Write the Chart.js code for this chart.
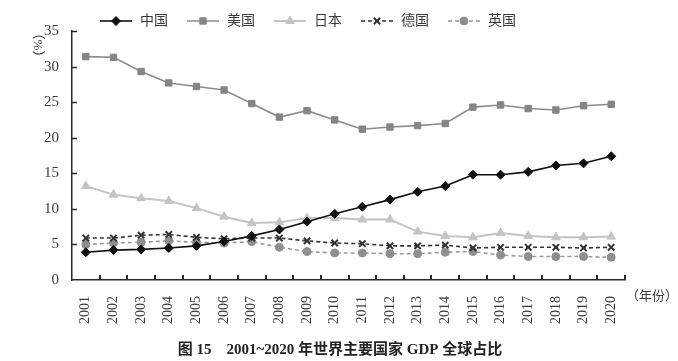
<!DOCTYPE html>
<html>
<head>
<meta charset="utf-8">
<script src="https://cdn.jsdelivr.net/npm/chart.js@4.4.1/dist/chart.umd.min.js"></script>
<style>
  html, body { margin: 0; padding: 0; background: #fff; }
  #wrap { width: 678px; height: 361px; position: relative; }
</style>
</head>
<body>
<div id="wrap"><canvas id="gdpChart"></canvas></div>
<script>
const years = ['2001', '2002', '2003', '2004', '2005', '2006', '2007', '2008', '2009', '2010',
  '2011', '2012', '2013', '2014', '2015', '2016', '2017', '2018', '2019', '2020'];
const china = [3.9, 4.2, 4.3, 4.5, 4.8, 5.4, 6.2, 7.1, 8.2, 9.3, 10.3, 11.3, 12.4, 13.2, 14.8, 14.8, 15.2, 16.1, 16.4, 17.4];
const usa = [31.4, 31.3, 29.3, 27.7, 27.2, 26.7, 24.8, 22.9, 23.8, 22.5, 21.2, 21.5, 21.7, 22.0, 24.3, 24.6, 24.1, 23.9, 24.5, 24.7];
const japan = [13.2, 12.0, 11.5, 11.1, 10.1, 8.9, 8.0, 8.1, 8.7, 8.7, 8.5, 8.5, 6.8, 6.2, 6.0, 6.6, 6.2, 6.0, 6.0, 6.1];
const germany = [5.9, 5.9, 6.3, 6.4, 6.0, 5.8, 5.9, 5.9, 5.5, 5.2, 5.1, 4.8, 4.8, 4.9, 4.5, 4.6, 4.6, 4.6, 4.5, 4.6];
const uk = [5.0, 5.2, 5.3, 5.5, 5.3, 5.2, 5.4, 4.6, 4.0, 3.8, 3.8, 3.7, 3.7, 3.9, 4.0, 3.5, 3.3, 3.3, 3.3, 3.2];
const yTicks = [0, 5, 10, 15, 20, 25, 30, 35];

const serif = '"Liberation Serif", "Noto Sans CJK SC", serif';
const axisColor = '#2a2a2a';
const textColor = '#3a3a3a';

// legend, unit labels, caption and inward tick marks
const decorations = {
  id: 'decorations',
  afterDraw(chart) {
    const { ctx, scales: { x, y } } = chart;
    ctx.save();

    // inward ticks on x axis (category boundaries)
    ctx.strokeStyle = axisColor;
    ctx.lineWidth = 2;
    const n = years.length;
    for (let i = 1; i <= n; i++) {
      const px = Math.round(x.left + i * x.width / n);
      ctx.beginPath();
      ctx.moveTo(px, y.bottom);
      ctx.lineTo(px, y.bottom - 5);
      ctx.stroke();
    }
    // inward ticks on y axis
    ctx.lineWidth = 1.5;
    y.ticks.forEach(t => {
      if (t.value === 0) return;
      const py = Math.round(y.getPixelForValue(t.value)) + 0.5;
      ctx.beginPath();
      ctx.moveTo(x.left, py);
      ctx.lineTo(x.left + 5, py);
      ctx.stroke();
    });

    // legend
    ctx.font = '14px ' + serif;
    ctx.textBaseline = 'middle';
    ctx.textAlign = 'left';
    let lx = 100;
    const ly = 21;
    chart.data.datasets.forEach(ds => {
      ctx.strokeStyle = ds.borderColor;
      ctx.lineWidth = ds.borderWidth;
      ctx.setLineDash(ds.borderDash || []);
      ctx.beginPath();
      ctx.moveTo(lx, ly);
      ctx.lineTo(lx + 32, ly);
      ctx.stroke();
      ctx.setLineDash([]);
      ctx.fillStyle = ds.pointBackgroundColor;
      ctx.strokeStyle = ds.pointBorderColor;
      ctx.lineWidth = ds.pointBorderWidth;
      Chart.helpers.drawPoint(ctx, {
        pointStyle: ds.pointStyle, radius: ds.pointRadius,
        borderWidth: ds.pointBorderWidth, rotation: 0
      }, lx + 16, ly);
      ctx.fillStyle = textColor;
      ctx.fillText(ds.label, lx + 40, ly);
      lx += 40 + ctx.measureText(ds.label).width + 19;
    });

    // unit (%) rotated clockwise
    ctx.save();
    ctx.translate(37, 45);
    ctx.rotate(Math.PI / 2);
    ctx.textAlign = 'center';
    ctx.font = '13px ' + serif;
    ctx.fillText('（%）', 0, 0);
    ctx.restore();

    // x unit
    ctx.font = '13px ' + serif;
    ctx.textAlign = 'left';
    ctx.fillText('（年份）', 626, 297);

    // caption
    ctx.font = 'bold 15px ' + serif;
    ctx.textAlign = 'center';
    ctx.fillStyle = '#222';
    ctx.fillText('图 15    2001~2020 年世界主要国家 GDP 全球占比', 340, 350);

    ctx.restore();
  }
};

const ctx = document.getElementById('gdpChart');

new Chart(ctx, {
  type: 'line',
  data: {
    labels: years,
    datasets: [
      {
        label: '中国',
        data: china,
        borderColor: '#111',
        borderWidth: 1.6,
        pointStyle: 'rectRot',
        pointRadius: 4.5,
        pointBackgroundColor: '#111',
        pointBorderColor: '#111',
        pointBorderWidth: 1
      },
      {
        label: '美国',
        data: usa,
        borderColor: '#8c8c8c',
        borderWidth: 1.6,
        pointStyle: 'rect',
        pointRadius: 4.5,
        pointBackgroundColor: '#858585',
        pointBorderColor: '#858585',
        pointBorderWidth: 1
      },
      {
        label: '日本',
        data: japan,
        borderColor: '#c4c4c4',
        borderWidth: 2,
        pointStyle: 'triangle',
        pointRadius: 5,
        pointBackgroundColor: '#c4c4c4',
        pointBorderColor: '#c4c4c4',
        pointBorderWidth: 1
      },
      {
        label: '德国',
        data: germany,
        borderColor: '#333',
        borderWidth: 1.6,
        borderDash: [4, 3],
        pointStyle: 'crossRot',
        pointRadius: 4.5,
        pointBackgroundColor: '#333',
        pointBorderColor: '#333',
        pointBorderWidth: 2
      },
      {
        label: '英国',
        data: uk,
        borderColor: '#9a9a9a',
        borderWidth: 1.6,
        borderDash: [4, 3],
        pointStyle: 'circle',
        pointRadius: 4,
        pointBackgroundColor: '#8f8f8f',
        pointBorderColor: '#8f8f8f',
        pointBorderWidth: 1
      }
    ]
  },
  options: {
    responsive: true,
    maintainAspectRatio: false,
    animation: false,
    layout: { padding: { top: 31, right: 53, left: 0, bottom: 0 } },
    plugins: {
      legend: { display: false },
      tooltip: { enabled: false }
    },
    scales: {
      x: {
        offset: true,
        grid: { display: false },
        border: { display: true, color: axisColor, width: 1.5 },
        ticks: {
          autoSkip: false,
          minRotation: 90,
          maxRotation: 90,
          padding: 8,
          color: textColor,
          font: { family: serif, size: 14 }
        },
        afterFit: s => { s.height = 81; }
      },
      y: {
        min: 0,
        max: 35,
        afterBuildTicks: s => { s.ticks = yTicks.map(v => ({ value: v })); },
        grid: { display: false },
        border: { display: true, color: axisColor, width: 1.5 },
        ticks: {
          padding: 5,
          color: textColor,
          font: { family: serif, size: 15 }
        },
        afterFit: s => { s.width = 72; }
      }
    }
  },
  plugins: [decorations]
});
</script>
</body>
</html>
